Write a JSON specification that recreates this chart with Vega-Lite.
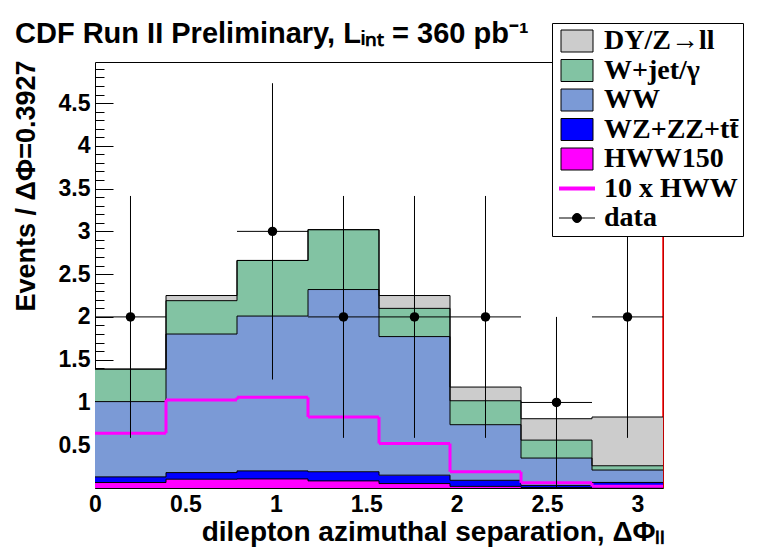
{
  "$schema": "https://vega.github.io/schema/vega-lite/v6.json",
  "width": 568,
  "height": 426,
  "autosize": {"type": "none"},
  "padding": {"left": 95, "top": 62, "right": 95, "bottom": 62},
  "background": "white",
  "title": {
    "text": "CDF Run II Preliminary, Lᵢₙₜ = 360 pb⁻¹",
    "anchor": "start",
    "frame": "group",
    "dx": -80,
    "dy": 71,
    "offset": 22,
    "baseline": "alphabetic",
    "font": "Liberation Sans",
    "fontSize": 29,
    "fontWeight": "bold",
    "color": "black"
  },
  "config": {
    "view": {"stroke": "black", "strokeWidth": 1},
    "axis": {
      "labelFont": "Liberation Sans",
      "labelFontWeight": "bold",
      "labelFontSize": 23,
      "labelColor": "black",
      "tickColor": "black",
      "titleFont": "Liberation Sans",
      "titleFontWeight": "bold",
      "titleFontSize": 27,
      "titleColor": "black",
      "grid": false,
      "domain": false,
      "labelOverlap": false,
      "labelFlush": false
    }
  },
  "datasets": {
    "stack": [
      {"lo": 0, "hi": 0.3927, "comp": "HWW150", "v": 0.064},
      {"lo": 0, "hi": 0.3927, "comp": "WZ+ZZ+tt̄", "v": 0.066},
      {"lo": 0, "hi": 0.3927, "comp": "WW", "v": 0.88},
      {"lo": 0, "hi": 0.3927, "comp": "W+jet/γ", "v": 0.38},
      {"lo": 0, "hi": 0.3927, "comp": "DY/Z→ll", "v": 0.0},
      {"lo": 0.3927, "hi": 0.7854, "comp": "HWW150", "v": 0.103},
      {"lo": 0.3927, "hi": 0.7854, "comp": "WZ+ZZ+tt̄", "v": 0.077},
      {"lo": 0.3927, "hi": 0.7854, "comp": "WW", "v": 1.62},
      {"lo": 0.3927, "hi": 0.7854, "comp": "W+jet/γ", "v": 0.39},
      {"lo": 0.3927, "hi": 0.7854, "comp": "DY/Z→ll", "v": 0.06},
      {"lo": 0.7854, "hi": 1.1781, "comp": "HWW150", "v": 0.106},
      {"lo": 0.7854, "hi": 1.1781, "comp": "WZ+ZZ+tt̄", "v": 0.094},
      {"lo": 0.7854, "hi": 1.1781, "comp": "WW", "v": 1.81},
      {"lo": 0.7854, "hi": 1.1781, "comp": "W+jet/γ", "v": 0.65},
      {"lo": 0.7854, "hi": 1.1781, "comp": "DY/Z→ll", "v": 0.0},
      {"lo": 1.1781, "hi": 1.5708, "comp": "HWW150", "v": 0.083},
      {"lo": 1.1781, "hi": 1.5708, "comp": "WZ+ZZ+tt̄", "v": 0.107},
      {"lo": 1.1781, "hi": 1.5708, "comp": "WW", "v": 2.13},
      {"lo": 1.1781, "hi": 1.5708, "comp": "W+jet/γ", "v": 0.70},
      {"lo": 1.1781, "hi": 1.5708, "comp": "DY/Z→ll", "v": 0.0},
      {"lo": 1.5708, "hi": 1.9635, "comp": "HWW150", "v": 0.052},
      {"lo": 1.5708, "hi": 1.9635, "comp": "WZ+ZZ+tt̄", "v": 0.098},
      {"lo": 1.5708, "hi": 1.9635, "comp": "WW", "v": 1.62},
      {"lo": 1.5708, "hi": 1.9635, "comp": "W+jet/γ", "v": 0.33},
      {"lo": 1.5708, "hi": 1.9635, "comp": "DY/Z→ll", "v": 0.15},
      {"lo": 1.9635, "hi": 2.3562, "comp": "HWW150", "v": 0.019},
      {"lo": 1.9635, "hi": 2.3562, "comp": "WZ+ZZ+tt̄", "v": 0.071},
      {"lo": 1.9635, "hi": 2.3562, "comp": "WW", "v": 0.65},
      {"lo": 1.9635, "hi": 2.3562, "comp": "W+jet/γ", "v": 0.28},
      {"lo": 1.9635, "hi": 2.3562, "comp": "DY/Z→ll", "v": 0.16},
      {"lo": 2.3562, "hi": 2.7489, "comp": "HWW150", "v": 0.006},
      {"lo": 2.3562, "hi": 2.7489, "comp": "WZ+ZZ+tt̄", "v": 0.024},
      {"lo": 2.3562, "hi": 2.7489, "comp": "WW", "v": 0.32},
      {"lo": 2.3562, "hi": 2.7489, "comp": "W+jet/γ", "v": 0.21},
      {"lo": 2.3562, "hi": 2.7489, "comp": "DY/Z→ll", "v": 0.25},
      {"lo": 2.7489, "hi": 3.1416, "comp": "HWW150", "v": 0.002},
      {"lo": 2.7489, "hi": 3.1416, "comp": "WZ+ZZ+tt̄", "v": 0.063},
      {"lo": 2.7489, "hi": 3.1416, "comp": "WW", "v": 0.145},
      {"lo": 2.7489, "hi": 3.1416, "comp": "W+jet/γ", "v": 0.05},
      {"lo": 2.7489, "hi": 3.1416, "comp": "DY/Z→ll", "v": 0.57}
    ],
    "sig": [
      {"lo": 0, "hi": 0.3927, "v": 0.64},
      {"lo": 0.3927, "hi": 0.7854, "v": 1.03},
      {"lo": 0.7854, "hi": 1.1781, "v": 1.06},
      {"lo": 1.1781, "hi": 1.5708, "v": 0.83},
      {"lo": 1.5708, "hi": 1.9635, "v": 0.52},
      {"lo": 1.9635, "hi": 2.3562, "v": 0.19},
      {"lo": 2.3562, "hi": 2.7489, "v": 0.06},
      {"lo": 2.7489, "hi": 3.1416, "v": 0.02}
    ],
    "pts": [
      {"x": 0.1963, "lo": 0, "hi": 0.3927, "n": 2, "ylo": 0.586, "yhi": 3.414},
      {"x": 0.9817, "lo": 0.7854, "hi": 1.1781, "n": 3, "ylo": 1.268, "yhi": 4.732},
      {"x": 1.3744, "lo": 1.1781, "hi": 1.5708, "n": 2, "ylo": 0.586, "yhi": 3.414},
      {"x": 1.7671, "lo": 1.5708, "hi": 1.9635, "n": 2, "ylo": 0.586, "yhi": 3.414},
      {"x": 2.1598, "lo": 1.9635, "hi": 2.3562, "n": 2, "ylo": 0.586, "yhi": 3.414},
      {"x": 2.5525, "lo": 2.3562, "hi": 2.7489, "n": 1, "ylo": 0, "yhi": 2},
      {"x": 2.9452, "lo": 2.7489, "hi": 3.1416, "n": 2, "ylo": 0.586, "yhi": 3.414}
    ],
    "edge": [{"e": 3.1416}]
  },
  "layer": [
    {
      "data": {"name": "edge"},
      "mark": {"type": "rule", "color": "#ff0000", "strokeWidth": 1.5},
      "encoding": {
        "x": {"field": "e", "type": "quantitative"}
      }
    },
    {
      "data": {"name": "stack"},
      "transform": [
        {"calculate": "indexof(['HWW150','WZ+ZZ+tt̄','WW','W+jet/γ','DY/Z→ll'], datum.comp)", "as": "ord"},
        {"stack": "v", "groupby": ["lo"], "sort": [{"field": "ord"}], "as": ["y0", "y1"]}
      ],
      "mark": {"type": "rect"},
      "encoding": {
        "x": {
          "field": "lo", "type": "quantitative",
          "scale": {"domain": [0, 3.1416], "nice": false, "zero": false},
          "axis": {
            "values": [0, 0.5, 1, 1.5, 2, 2.5, 3],
            "tickCount": 20,
            "ticks": false,
            "labelPadding": 5,
            "labelExpr": "format(datum.value, '~g')",
            "title": "dilepton azimuthal separation, ΔΦₗₗ",
            "titleFontSize": 28,
            "titleX": 570,
            "titleY": 52,
            "titleAlign": "right",
            "titleAnchor": "end",
            "titleBaseline": "alphabetic"
          }
        },
        "x2": {"field": "hi"},
        "y": {
          "field": "y0", "type": "quantitative",
          "scale": {"domain": [0, 4.98], "nice": false, "zero": false},
          "axis": {
            "title": "Events / ΔΦ=0.3927",
            "values": [0,0.1,0.2,0.3,0.4,0.5,0.6,0.7,0.8,0.9,1,1.1,1.2,1.3,1.4,1.5,1.6,1.7,1.8,1.9,2,2.1,2.2,2.3,2.4,2.5,2.6,2.7,2.8,2.9,3,3.1,3.2,3.3,3.4,3.5,3.6,3.7,3.8,3.9,4,4.1,4.2,4.3,4.4,4.5,4.6,4.7,4.8,4.9],
            "tickCount": 100,
            "labelOverlap": false,
            "tickSize": {"condition": {"test": "abs(datum.value*2-round(datum.value*2))<0.001", "value": -18}, "value": -9},
            "labelExpr": "abs(datum.value*2-round(datum.value*2))<0.001 && datum.value>0.01 ? format(datum.value, '~g') : ''",
            "labelPadding": 23,
            "titleAngle": 270,
            "titleX": -61,
            "titleY": -2,
            "titleAlign": "right",
            "titleBaseline": "alphabetic"
          }
        },
        "y2": {"field": "y1"},
        "color": {
          "field": "comp", "type": "nominal",
          "scale": {
            "domain": ["DY/Z→ll", "W+jet/γ", "WW", "WZ+ZZ+tt̄", "HWW150", "10 x HWW", "data"],
            "range": ["#cccccc", "#82c3a3", "#7b9ad6", "#0000ff", "#ff00ff", "#ff00ff", "#000000"]
          },
          "legend": {
            "orient": "none",
            "legendX": 457,
            "legendY": -39,
            "title": null,
            "fillColor": "white",
            "strokeColor": "black",
            "padding": 4,
            "rowPadding": 1.5,
            "labelFont": "Liberation Serif",
            "labelFontWeight": "bold",
            "labelFontSize": 28,
            "labelColor": "black",
            "labelExpr": "datum.label + '\u00a0\u00a0\u00a0\u00a0\u00a0\u00a0'",
            "symbolSize": 400,
            "symbolOffset": 7,
            "labelOffset": 13,
            "symbolType": "M-1.6,-1.1H1.6V1.1H-1.6Z",
            "symbolStrokeColor": "black",
            "symbolStrokeWidth": 1,
            "labelLimit": 400,
            "encode": {
              "symbols": {
                "update": {
                  "shape": {"signal": "datum.value === '10 x HWW' ? 'M-1.8,0H1.8' : datum.value === 'data' ? 'M-1.8,0H1.8M-0.45,0A0.45,0.45 0 1,0 0.45,0A0.45,0.45 0 1,0 -0.45,0Z' : 'M-1.6,-1.1H1.6V1.1H-1.6Z'"},
                  "stroke": {"signal": "datum.value === '10 x HWW' ? '#ff00ff' : 'black'"},
                  "strokeWidth": {"signal": "datum.value === '10 x HWW' ? 4 : 1"}
                }
              }
            }
          }
        }
      }
    },
    {
      "data": {"name": "stack"},
      "transform": [
        {"calculate": "indexof(['HWW150','WZ+ZZ+tt̄','WW','W+jet/γ','DY/Z→ll'], datum.comp)", "as": "ord"},
        {"stack": "v", "groupby": ["lo"], "sort": [{"field": "ord"}], "as": ["y0", "y1"]}
      ],
      "mark": {"type": "rule", "color": "black", "strokeWidth": 1},
      "encoding": {
        "x": {"field": "lo", "type": "quantitative"},
        "x2": {"field": "hi"},
        "y": {"field": "y1", "type": "quantitative"}
      }
    },
    {
      "data": {"name": "stack"},
      "transform": [
        {"calculate": "indexof(['HWW150','WZ+ZZ+tt̄','WW','W+jet/γ','DY/Z→ll'], datum.comp)", "as": "ord"},
        {"stack": "v", "groupby": ["lo"], "sort": [{"field": "ord"}], "as": ["y0", "y1"]},
        {"window": [{"op": "lead", "field": "y1", "as": "ny"}], "groupby": ["comp"], "sort": [{"field": "lo"}]},
        {"filter": "datum.ny != null"}
      ],
      "mark": {"type": "rule", "color": "black", "strokeWidth": 1},
      "encoding": {
        "x": {"field": "hi", "type": "quantitative"},
        "y": {"field": "y1", "type": "quantitative"},
        "y2": {"field": "ny"}
      }
    },
    {
      "data": {"name": "sig"},
      "mark": {"type": "rule", "color": "#ff00ff", "strokeWidth": 3},
      "encoding": {
        "x": {"field": "lo", "type": "quantitative"},
        "x2": {"field": "hi"},
        "y": {"field": "v", "type": "quantitative"}
      }
    },
    {
      "data": {"name": "sig"},
      "transform": [
        {"window": [{"op": "lead", "field": "v", "as": "nv"}], "sort": [{"field": "lo"}]},
        {"filter": "datum.nv != null"}
      ],
      "mark": {"type": "rule", "color": "#ff00ff", "strokeWidth": 3},
      "encoding": {
        "x": {"field": "hi", "type": "quantitative"},
        "y": {"field": "v", "type": "quantitative"},
        "y2": {"field": "nv"}
      }
    },
    {
      "data": {"name": "pts"},
      "mark": {"type": "rule", "color": "black", "strokeWidth": 1},
      "encoding": {
        "x": {"field": "x", "type": "quantitative"},
        "y": {"field": "ylo", "type": "quantitative"},
        "y2": {"field": "yhi"}
      }
    },
    {
      "data": {"name": "pts"},
      "mark": {"type": "rule", "color": "black", "strokeWidth": 1},
      "encoding": {
        "x": {"field": "lo", "type": "quantitative"},
        "x2": {"field": "hi"},
        "y": {"field": "n", "type": "quantitative"}
      }
    },
    {
      "data": {"name": "pts"},
      "mark": {"type": "circle", "color": "black", "opacity": 1, "size": 90},
      "encoding": {
        "x": {"field": "x", "type": "quantitative"},
        "y": {"field": "n", "type": "quantitative"}
      }
    }
  ]
}
